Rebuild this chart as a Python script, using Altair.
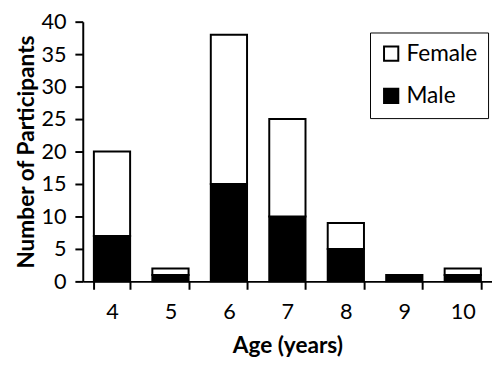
import altair as alt
import pandas as pd

ages = ["4", "5", "6", "7", "8", "9", "10"]
male = [7, 1, 15, 10, 5, 1, 1]
female = [13, 1, 23, 15, 4, 0, 1]
y_ticks = [0, 5, 10, 15, 20, 25, 30, 35, 40]

rows = []
for a, m, f in zip(ages, male, female):
    rows.append({"age": a, "sex": "Male", "n": m, "ord": 0})
    rows.append({"age": a, "sex": "Female", "n": f, "ord": 1})
df = pd.DataFrame(rows)

FONT = "Lato"

chart = alt.Chart(df).mark_bar(stroke="black", strokeWidth=2).encode(
    x=alt.X(
        "age:N",
        sort=ages,
        title="Age (years)",
        scale=alt.Scale(paddingInner=0.38, paddingOuter=0.19),
        axis=alt.Axis(
            labelAngle=0,
            tickBand="extent",
            labelFontSize=22,
            labelPadding=13,
            titleFontSize=23,
            titleFontWeight="bold",
            titlePadding=12,
        ),
    ),
    y=alt.Y(
        "n:Q",
        stack="zero",
        title="Number of Participants",
        scale=alt.Scale(domain=[0, 40], nice=False),
        axis=alt.Axis(
            values=y_ticks,
            labelFontSize=22,
            labelPadding=9,
            titleFontSize=23,
            titleFontWeight="bold",
            titlePadding=3,
        ),
    ),
    color=alt.Color(
        "sex:N",
        scale=alt.Scale(domain=["Female", "Male"], range=["white", "black"]),
        legend=alt.Legend(
            title=None,
            orient="none",
            legendX=292,
            legendY=11,
            strokeColor="black",
            padding=10,
            symbolType="square",
            symbolSize=210,
            symbolStrokeColor="black",
            symbolStrokeWidth=2,
            labelFontSize=23,
            rowPadding=19,
            labelOffset=4,
        ),
    ),
    order=alt.Order("ord:Q", sort="ascending"),
).properties(
    width=416,
    height=264,
    autosize=alt.AutoSizeParams(type="none"),
    padding={"left": 76, "top": 11, "right": 0, "bottom": 77},
).configure(
    font=FONT,
).configure_axis(
    grid=False,
    domainColor="black",
    domainWidth=2,
    tickColor="black",
    tickWidth=2,
    tickSize=8,
    labelColor="black",
    titleColor="black",
    labelFont=FONT,
    titleFont=FONT,
).configure_view(
    stroke=None,
).configure_legend(
    labelFont=FONT,
    labelColor="black",
)

chart.save("out.html", embed_options={"renderer": "svg", "actions": False})
